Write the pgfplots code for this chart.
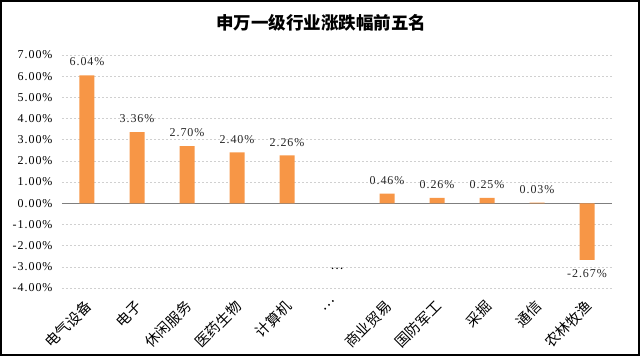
\documentclass[border=0pt]{standalone}
\usepackage{pgfplots}
\pgfplotsset{compat=1.18}
\usepackage{fontspec}
\setmainfont[LetterSpace=8]{Liberation Serif}
\newfontfamily\cjk{Noto Sans CJK SC}
\definecolor{barorange}{HTML}{F79646}
\definecolor{gridgray}{HTML}{D0D0D0}
\definecolor{zerogray}{HTML}{7F7F7F}
\begin{document}
\begin{tikzpicture}[x=1pt,y=1pt]
\path[use as bounding box] (0,0) rectangle (640,356);
\draw[line width=2pt] (1,1) rectangle (639,355);
\node[font=\cjk\bfseries\fontsize{17.5}{17.5}\selectfont] at (321,333) {申万一级行业涨跌幅前五名};
\begin{axis}[
  at={(62pt,68pt)}, anchor=south west,
  scale only axis, width=550pt, height=233pt,
  ymin=-4, ymax=7, xmin=-0.5, xmax=10.5,
  ytick={-4,-3,...,7},
  xtick={0,...,10},
  xticklabels={电气设备,电子,休闲服务,医药生物,计算机,…,商业贸易,国防军工,采掘,通信,农林牧渔},
  axis line style={draw=none},
  major tick length=0pt,
  ymajorgrids,
  grid style={gridgray, dash pattern=on 2pt off 2pt, line width=0.6pt},
  /pgf/number format/assume math mode=true,
  yticklabel={\pgfmathprintnumber[fixed,fixed zerofill,precision=2]{\tick}\%},
  yticklabel style={font=\fontsize{12}{12}\selectfont, xshift=-6pt},
  xticklabel style={xshift=-3pt, yshift=-6pt, rotate=45, anchor=north east, font=\cjk\fontsize{14.5}{14.5}\selectfont},
  extra y ticks={0},
  extra y tick labels={},
  extra y tick style={grid style={solid, zerogray, line width=0.8pt}},
  ybar, bar width=15pt,
  nodes near coords={\pgfmathprintnumber[fixed,fixed zerofill,precision=2]{\pgfplotspointmeta}\%},
  nodes near coords style={font=\fontsize{12}{12}\selectfont, text=black!85, inner ysep=9pt},
  clip=false,
]
\addplot[fill=barorange, draw=none] coordinates {
 (0,6.04) (1,3.36) (2,2.70) (3,2.40) (4,2.26)
 (6,0.46) (7,0.26) (8,0.25) (9,0.03) (10,-2.67)
};
\node[font=\cjk\fontsize{12}{12}\selectfont] at (axis cs:5,-3.1) {…};
\end{axis}
\end{tikzpicture}
\end{document}
